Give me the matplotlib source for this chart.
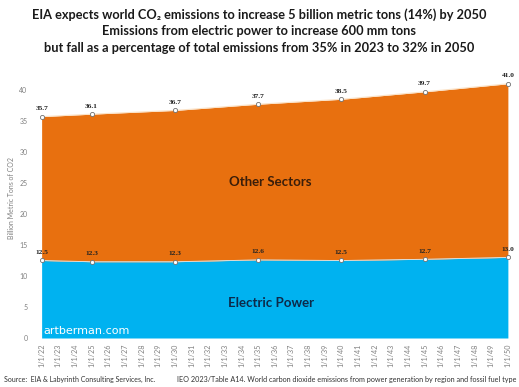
import numpy as np
import matplotlib
matplotlib.use('Agg')
import matplotlib.pyplot as plt

plt.rcParams['font.family'] = ['Lato', 'DejaVu Sans']

years = [2022, 2025, 2030, 2035, 2040, 2045, 2050]
total = [35.7, 36.1, 36.7, 37.7, 38.5, 39.7, 41.0]
electric = [12.5, 12.3, 12.3, 12.6, 12.5, 12.7, 13.0]
tick_years = list(range(2022, 2051))
tick_labels = ['1/1/%02d' % (y % 100) for y in tick_years]

orange = '#E8700F'
blue = '#00B2F0'

fig = plt.figure(figsize=(5.19, 3.87), dpi=100)
ax = fig.add_axes([0.077, 0.1266, 0.908, 0.721])

ax.fill_between(years, 0, electric, color=blue, lw=0)
ax.fill_between(years, electric, total, color=orange, lw=0)
ax.plot(years, total, color='#fbe3c8', lw=0.8)
ax.plot(years, electric, color='#d8eef8', lw=0.6)
ax.plot(years, total, 'o', ms=3, mfc='white', mec='#707070', mew=0.6)
ax.plot(years, electric, 'o', ms=3, mfc='white', mec='#707070', mew=0.6)

for x, t, e in zip(years, total, electric):
    ax.annotate('%.1f' % t, (x, t), xytext=(0, 4), textcoords='offset points',
                ha='center', va='bottom', fontsize=5.3, fontweight='bold',
                family='Liberation Serif', color='#222222')
    ax.annotate('%.1f' % e, (x, e), xytext=(0, 4), textcoords='offset points',
                ha='center', va='bottom', fontsize=5.3, fontweight='bold',
                family='Liberation Serif', color='#222222')

ax.text(2035.7, 25.2, 'Other Sectors', ha='center', va='center',
        fontsize=9.5, fontweight='bold', color='#3a1e0a')
ax.text(2035.8, 5.6, 'Electric Power', ha='center', va='center',
        fontsize=9.5, fontweight='bold', color='#0d2a4a')
ax.text(2022.1, 0.4, 'artberman.com', ha='left', va='bottom',
        fontsize=8, color='white', family='DejaVu Sans')

ax.set_xlim(2021.9, 2050.2)
ax.set_ylim(0, 45)
ax.set_yticks(range(0, 41, 5))
ax.set_xticks(tick_years)
ax.set_xticklabels(tick_labels, rotation=90, fontsize=5.2, color='#808080')
ax.tick_params(axis='y', labelsize=5, colors='#808080', length=0, pad=9)
ax.tick_params(axis='x', length=0, pad=4)
for s in ax.spines.values():
    s.set_visible(False)
ax.set_ylabel('Billion Metric Tons of CO2', fontsize=5, color='#808080', labelpad=3)

fig.text(0.5, 0.962, 'EIA expects world CO\u2082 emissions to increase 5 billion metric tons (14%) by 2050',
         ha='center', va='center', fontsize=9.2, fontweight='bold', color='#1a1a1a')
fig.text(0.5, 0.92, 'Emissions from electric power to increase 600 mm tons',
         ha='center', va='center', fontsize=9.2, fontweight='bold', color='#1a1a1a')
fig.text(0.5, 0.876, 'but fall as a percentage of total emissions from 35% in 2023 to 32% in 2050',
         ha='center', va='center', fontsize=9.2, fontweight='bold', color='#1a1a1a')

fig.text(0.008, 0.02, 'Source:  EIA & Labyrinth Consulting Services, Inc.',
         ha='left', va='center', fontsize=5, color='#333333')
fig.text(0.996, 0.02, 'IEO 2023/Table A14. World carbon dioxide emissions from power generation by region and fossil fuel type',
         ha='right', va='center', fontsize=5.2, color='#333333')

fig.savefig('out.png', dpi=100)
